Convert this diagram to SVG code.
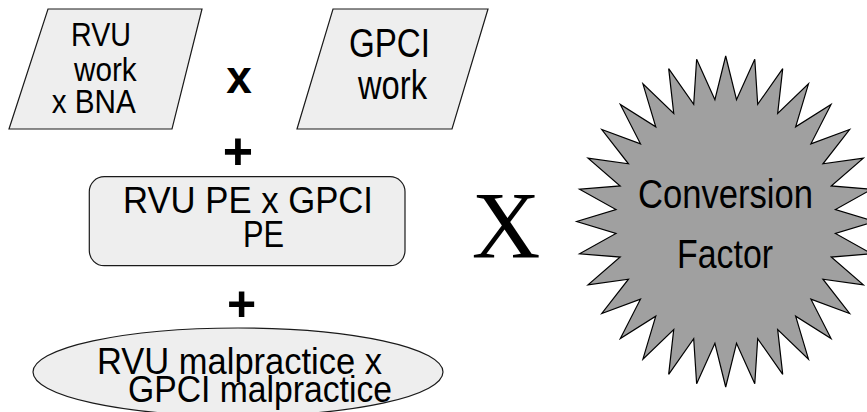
<svg xmlns="http://www.w3.org/2000/svg" width="867" height="412" viewBox="0 0 867 412">
<style>
.shape{fill:#eeeeee;stroke:#1a1a1a;stroke-width:1.2}
.lbl{font-family:"Liberation Sans Narrow","Liberation Sans",Arial,sans-serif;fill:#000}
.op{font-family:"Liberation Sans",Arial,sans-serif;font-weight:bold;fill:#000;text-anchor:middle}
</style>
<rect width="867" height="412" fill="#ffffff"/>
<g id="connectors"></g>
<g id="node-rvu-work">
<polygon class="shape" points="48,9 202,9 172,129 9,129"/>
<text class="lbl" font-size="34" x="71" y="46" textLength="60" lengthAdjust="spacingAndGlyphs">RVU</text>
<text class="lbl" font-size="34" x="74" y="80.5" textLength="62.7" lengthAdjust="spacingAndGlyphs">work</text>
<text class="lbl" font-size="34" x="51.7" y="113" textLength="84" lengthAdjust="spacingAndGlyphs">x BNA</text>
</g>
<g id="node-gpci-work">
<polygon class="shape" points="333,9 488,9 452,129 297,129"/>
<text class="lbl" font-size="40" x="349" y="57.3" textLength="81" lengthAdjust="spacingAndGlyphs">GPCI</text>
<text class="lbl" font-size="40" x="358" y="99.3" textLength="69" lengthAdjust="spacingAndGlyphs">work</text>
</g>
<g id="node-pe">
<rect class="shape" x="89.3" y="176.7" width="315.7" height="89" rx="15" ry="15"/>
<text class="lbl" font-size="37" x="123" y="212.7" textLength="250" lengthAdjust="spacingAndGlyphs">RVU PE x GPCI</text>
<text class="lbl" font-size="37" x="243" y="246.5" textLength="41" lengthAdjust="spacingAndGlyphs">PE</text>
</g>
<g id="node-malpractice">
<ellipse class="shape" cx="238" cy="372" rx="205" ry="44"/>
<text class="lbl" font-size="36" x="97" y="374" textLength="285" lengthAdjust="spacingAndGlyphs">RVU malpractice x</text>
<text class="lbl" font-size="36" x="128" y="402" textLength="264" lengthAdjust="spacingAndGlyphs">GPCI malpractice</text>
</g>
<g id="operators">
<text class="op" font-size="46" x="239" y="92.7">x</text>
<text class="op" font-size="52" x="238" y="169">+</text>
<text class="op" font-size="50" x="241.5" y="320.8">+</text>
<text x="506" y="258" font-size="95" font-family="'Liberation Serif','Times New Roman',serif" text-anchor="middle" fill="#000">X</text>
</g>
<g id="node-conversion-factor">
<polygon transform="translate(725.7 221.5) scale(1.49 1.655)" vector-effect="non-scaling-stroke" fill="#a0a0a0" stroke="#000" stroke-width="1.2" points="0,-100 7.25,-73.64 19.51,-98.08 21.48,-70.81 38.27,-92.39 34.88,-65.26 55.56,-83.15 46.94,-57.2 70.71,-70.71 57.2,-46.94 83.15,-55.56 65.26,-34.88 92.39,-38.27 70.81,-21.48 98.08,-19.51 73.64,-7.25 100,0 73.64,7.25 98.08,19.51 70.81,21.48 92.39,38.27 65.26,34.88 83.15,55.56 57.2,46.94 70.71,70.71 46.94,57.2 55.56,83.15 34.88,65.26 38.27,92.39 21.48,70.81 19.51,98.08 7.25,73.64 0,100 -7.25,73.64 -19.51,98.08 -21.48,70.81 -38.27,92.39 -34.88,65.26 -55.56,83.15 -46.94,57.2 -70.71,70.71 -57.2,46.94 -83.15,55.56 -65.26,34.88 -92.39,38.27 -70.81,21.48 -98.08,19.51 -73.64,7.25 -100,0 -73.64,-7.25 -98.08,-19.51 -70.81,-21.48 -92.39,-38.27 -65.26,-34.88 -83.15,-55.56 -57.2,-46.94 -70.71,-70.71 -46.94,-57.2 -55.56,-83.15 -34.88,-65.26 -38.27,-92.39 -21.48,-70.81 -19.51,-98.08 -7.25,-73.64"/>
<text class="lbl" font-size="40" x="638" y="207.7" textLength="175" lengthAdjust="spacingAndGlyphs">Conversion</text>
<text class="lbl" font-size="40" x="677" y="267.7" textLength="96" lengthAdjust="spacingAndGlyphs">Factor</text>
</g>
</svg>
